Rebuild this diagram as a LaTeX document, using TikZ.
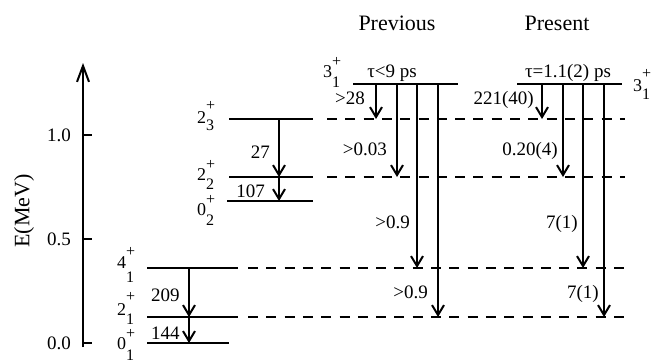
\documentclass[tikz,border=0pt]{standalone}
\usepackage{fontspec}
\setmainfont{Liberation Serif}
\usetikzlibrary{arrows.meta}
% \lvx{raise of +}{drop of index}{digit}{index}
\newcommand\lvx[4]{#3\rlap{\raisebox{#1pt}{\fontsize{16}{16}\selectfont+}}\raisebox{-#2pt}{\fontsize{16}{16}\selectfont#4}}
\tikzset{
  lvl/.style={line width=2pt},
  ghost/.style={line width=1.8pt, dash pattern=on 10pt off 8.3pt},
  tr/.style={line width=2pt, -{Straight Barb[length=10pt,width=12pt]}},
  lab/.style={inner sep=0pt, font=\fontsize{19}{19}\selectfont, anchor=base east},
  labw/.style={inner sep=0pt, font=\fontsize{19}{19}\selectfont, anchor=base west},
  st/.style={inner sep=0pt, font=\fontsize{18}{18}\selectfont, anchor=base west},
  ttl/.style={inner sep=0pt, font=\fontsize{22}{22}\selectfont, anchor=base},
  tick/.style={inner sep=0pt, font=\fontsize{19}{19}\selectfont, anchor=east},
}
\begin{document}
\begin{tikzpicture}[x=1pt,y=-1pt]
\useasboundingbox (0,0) rectangle (663,362);

% axis
\coordinate (ax0) at (83,347);
\coordinate (ax1) at (83,63);
\draw[line width=2pt, -{Straight Barb[length=16pt,width=12pt]}] (ax0) -- (ax1);
\foreach \yy/\tt/\nm in {135/1.0/t10, 239/0.5/t05, 343/0.0/t00}{
  \draw[lvl] (83,\yy) -- (92,\yy);
  \node[tick] (\nm) at (71,\yy) {\tt};
}
\node[inner sep=0pt, rotate=90, font=\fontsize{22}{22}\selectfont] (elab) at (24,211) {E(MeV)};

% titles
\node[ttl] (tprev) at (397,30) {Previous};
\node[ttl] (tpres) at (557,30) {Present};

% levels
\coordinate (g0) at (147,343); \coordinate (g1) at (229,343);
\coordinate (a0) at (147,317); \coordinate (a1) at (238,317);
\coordinate (b0) at (147,268); \coordinate (b1) at (238,268);
\coordinate (c0) at (227,201); \coordinate (c1) at (313,201);
\coordinate (d0) at (229,177); \coordinate (d1) at (313,177);
\coordinate (e0) at (229,119); \coordinate (e1) at (313,119);
\coordinate (p0) at (353,84);  \coordinate (p1) at (458,84);
\coordinate (q0) at (517,84);  \coordinate (q1) at (622,84);
\foreach \u/\v in {g0/g1,a0/a1,b0/b1,c0/c1,d0/d1,e0/e1,p0/p1,q0/q1}
  \draw[lvl] (\u) -- (\v);

% dashed continuations
\coordinate (ad0) at (248,317); \coordinate (ad1) at (625,317);
\coordinate (bd0) at (248,268); \coordinate (bd1) at (625,268);
\coordinate (dd0) at (327,177); \coordinate (dd1) at (625,177);
\coordinate (ed0) at (327,119); \coordinate (ed1) at (625,119);
\foreach \u/\v in {ad0/ad1,bd0/bd1,dd0/dd1,ed0/ed1}
  \draw[ghost] (\u) -- (\v);

% level labels
\node[st] (l01) at (117,349) {\lvx{11}{11}{0}{1}};
\node[st] (l21) at (117,315) {\lvx{14}{9}{2}{1}};
\node[st] (l41) at (117,268) {\lvx{12}{14}{4}{1}};
\node[st] (l02) at (197,215) {\lvx{11}{10}{0}{2}};
\node[st] (l22) at (197,180) {\lvx{11}{9}{2}{2}};
\node[st] (l23) at (197,123) {\lvx{13}{7}{2}{3}};
\node[st] (l3p) at (323,77) {\lvx{11}{10}{3}{1}};
\node[st] (l3q) at (633,91) {\lvx{13}{8}{3}{1}};
\node[inner sep=0pt, font=\fontsize{19}{19}\selectfont, anchor=base] (taup) at (392,77) {τ<9 ps};
\node[inner sep=0pt, font=\fontsize{19}{19}\selectfont, anchor=base] (tauq) at (568,77) {τ=1.1(2) ps};

% left transitions
\coordinate (x1t) at (279,119); \coordinate (x1b) at (279,177);
\coordinate (x2t) at (279,177); \coordinate (x2b) at (279,201);
\coordinate (x3t) at (189,268); \coordinate (x3b) at (189,317);
\coordinate (x4t) at (189,317); \coordinate (x4b) at (189,343);
\draw[tr] (x1t) -- (x1b);
\draw[tr] (x2t) -- (x2b);
\draw[tr] (x3t) -- (x3b);
\draw[tr] (x4t) -- (x4b);
\node[lab] (n27) at (270,158) {27};
\node[lab] (n107) at (265,197) {107};
\node[labw] (n209) at (151,301) {209};
\node[labw] (n144) at (151,339) {144};

% previous transitions
\coordinate (pa) at (376,84);  \coordinate (pae) at (376,119);
\coordinate (pb) at (397,84);  \coordinate (pbe) at (397,177);
\coordinate (pc) at (417,84);  \coordinate (pce) at (417,268);
\coordinate (pd) at (438,84);  \coordinate (pde) at (438,317);
\draw[tr] (pa) -- (pae);
\draw[tr] (pb) -- (pbe);
\draw[tr] (pc) -- (pce);
\draw[tr] (pd) -- (pde);
\node[lab] (np1) at (365,104) {>28};
\node[lab] (np2) at (387,155) {>0.03};
\node[lab] (np3) at (410,228) {>0.9};
\node[lab] (np4) at (428,298) {>0.9};

% present transitions
\coordinate (qa) at (542,84);  \coordinate (qae) at (542,119);
\coordinate (qb) at (563,84);  \coordinate (qbe) at (563,177);
\coordinate (qc) at (583,84);  \coordinate (qce) at (583,268);
\coordinate (qd) at (604,84);  \coordinate (qde) at (604,317);
\draw[tr] (qa) -- (qae);
\draw[tr] (qb) -- (qbe);
\draw[tr] (qc) -- (qce);
\draw[tr] (qd) -- (qde);
\node[lab] (nq1) at (534,104) {221(40)};
\node[lab] (nq2) at (558,155) {0.20(4)};
\node[lab] (nq3) at (578,228) {7(1)};
\node[lab] (nq4) at (599,298) {7(1)};
\end{tikzpicture}
\end{document}
